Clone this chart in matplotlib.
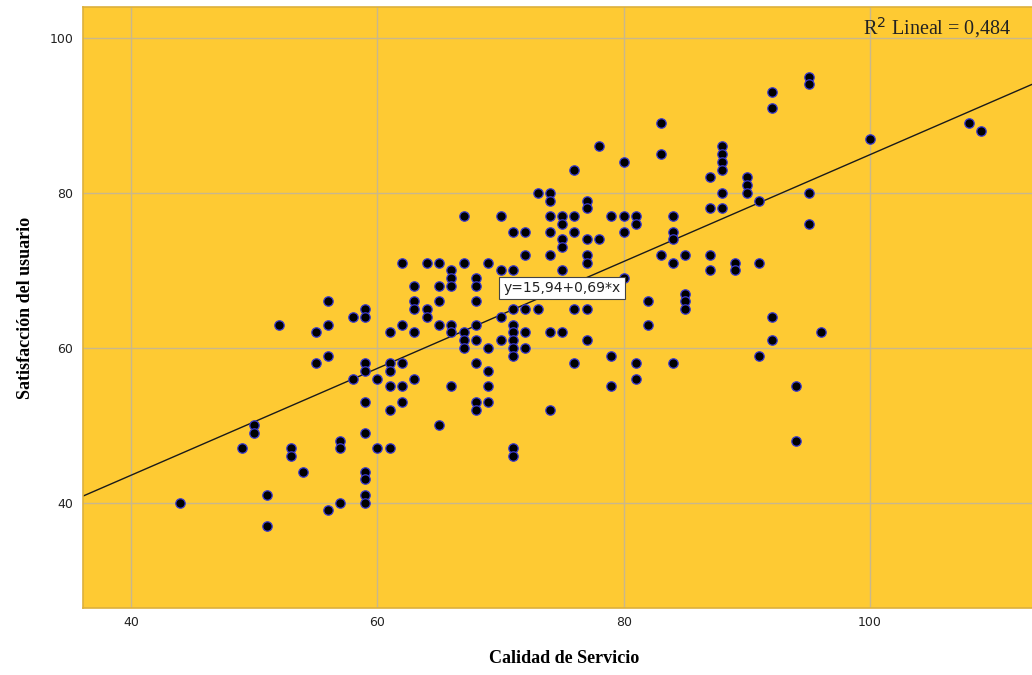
import matplotlib
matplotlib.use("Agg")
import matplotlib.pyplot as plt
import numpy as np

# Calidad de Servicio (x) vs Satisfacción del usuario (y), one entry per respondent
calidad = [
    62, 63, 63, 63, 56, 59, 59, 58, 52, 55, 56, 61, 62, 63, 55, 56, 59, 59, 58, 60,
    61, 61, 62, 63, 61, 62, 59, 61, 62, 50, 50, 59, 49, 53, 53, 57, 57, 60, 61, 54,
    59, 59, 51, 59, 59, 44, 57, 56, 51,
    78, 80, 83, 76, 73, 74, 74, 77, 77, 67, 70, 74, 75, 76, 79, 80, 81, 81, 84, 75,
    71, 72, 74, 76, 80, 84, 84, 75, 75, 77, 78, 72, 74, 77, 77, 83, 84, 85, 64, 65,
    67, 69, 66, 66, 66, 70, 71, 75, 68, 68, 65, 80, 65, 68, 64, 64, 71, 72, 73, 76,
    77, 82, 82, 85, 85, 85, 65, 66, 66, 67, 67, 67, 68, 68, 69, 70, 70, 71, 71, 71,
    71, 71, 72, 72, 74, 75, 77, 79, 76, 81, 84, 81, 79, 68, 69, 69, 66, 68, 68, 69,
    74, 65, 71, 71,
    95, 95, 92, 92, 83, 108, 109, 100, 88, 88, 88, 88, 87, 90, 90, 90, 88, 91, 95, 87,
    88, 95, 87, 87, 89, 89, 91, 92, 92, 96, 91, 94, 94,
]
satisfaccion = [
    71, 68, 66, 65, 66, 65, 64, 64, 63, 62, 63, 62, 63, 62, 58, 59, 58, 57, 56, 56,
    58, 57, 58, 56, 55, 55, 53, 52, 53, 50, 49, 49, 47, 47, 46, 48, 47, 47, 47, 44,
    44, 43, 41, 41, 40, 40, 40, 39, 37,
    86, 84, 85, 83, 80, 80, 79, 79, 78, 77, 77, 77, 77, 77, 77, 77, 77, 76, 77, 76,
    75, 75, 75, 75, 75, 75, 74, 74, 73, 74, 74, 72, 72, 72, 71, 72, 71, 72, 71, 71,
    71, 71, 70, 69, 68, 70, 70, 70, 69, 68, 68, 69, 66, 66, 65, 64, 65, 65, 65, 65,
    65, 66, 63, 67, 66, 65, 63, 63, 62, 62, 61, 60, 63, 61, 60, 64, 61, 63, 62, 61,
    60, 59, 62, 60, 62, 62, 61, 59, 58, 58, 58, 56, 55, 58, 57, 55, 55, 53, 52, 53,
    52, 50, 47, 46,
    95, 94, 93, 91, 89, 89, 88, 87, 86, 85, 84, 83, 82, 82, 81, 80, 80, 79, 80, 78,
    78, 76, 72, 70, 71, 70, 71, 64, 61, 62, 59, 55, 48,
]

# fitted line reported in the chart
intercepto, pendiente = 15.94, 0.69
r2 = 0.484

BG = "#FECA33"
GRID = "#C9B78C"

fig = plt.figure(figsize=(10.32, 6.75), dpi=100)
ax = fig.add_axes([83 / 1032, 67 / 675, 962 / 1032, 601 / 675])
ax.set_facecolor(BG)
ax.set_xlim(36.1, 114.2)
ax.set_ylim(26.4, 104.0)

ax.set_xticks([40, 60, 80, 100])
ax.set_yticks([40, 60, 80, 100])
ax.grid(True, color=GRID, lw=1.0)
ax.set_axisbelow(True)
ax.tick_params(length=0, labelsize=9, labelcolor="#222222")
ax.tick_params(axis="y", pad=7)
ax.tick_params(axis="x", pad=6)
for s in ax.spines.values():
    s.set_color("#DDB03C")
    s.set_linewidth(1.2)

xs = np.array(ax.get_xlim())
ax.plot(xs, intercepto + pendiente * xs, color="#1a1a1a", lw=1.0, zorder=2)

ax.scatter(calidad, satisfaccion, s=46, c="black", edgecolors="#3A3AD0",
           linewidths=0.9, zorder=3)

ax.text(75, intercepto + pendiente * 75,
        f"y={intercepto:.2f}+{pendiente:.2f}*x".replace(".", ","),
        ha="center", va="center", fontsize=10, color="#222222", zorder=5,
        bbox=dict(boxstyle="square,pad=0.3", fc="white", ec="#444444", lw=0.8))

ax.text(105.4, 101.3, f"R$^2$ Lineal = {r2:.3f}".replace(".", ","),
        ha="center", va="center", fontsize=14.5, family="Liberation Serif",
        color="#222222")

ax.set_xlabel("Calidad de Servicio", family="Liberation Serif", fontweight="bold",
              fontsize=13, labelpad=15)
ax.set_ylabel("Satisfacción del usuario", family="Liberation Serif", fontweight="bold",
              fontsize=13, labelpad=11)

fig.savefig("out.png", dpi=100)
